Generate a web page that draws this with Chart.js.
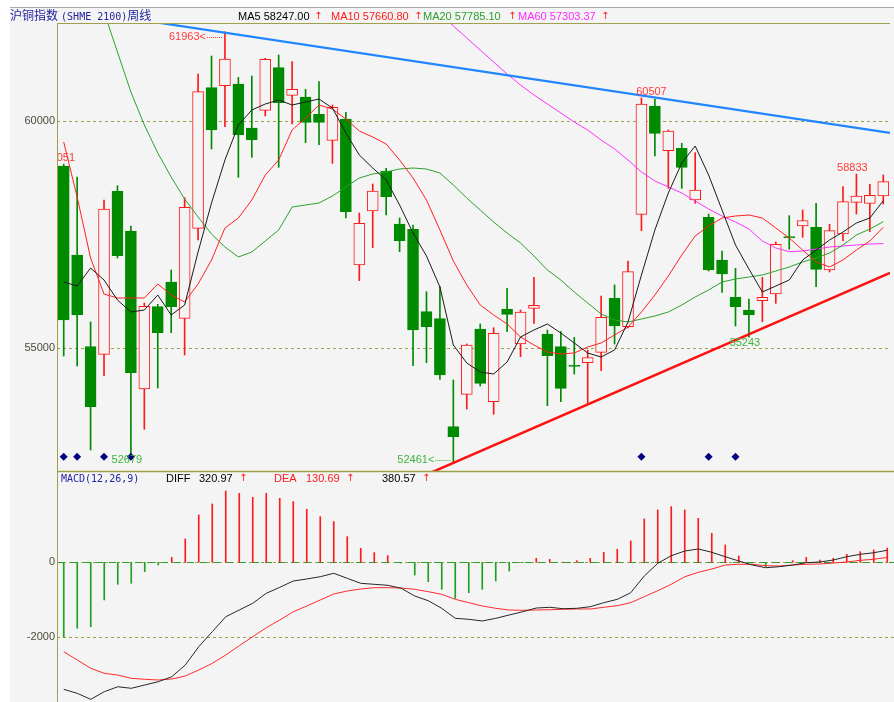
<!DOCTYPE html>
<html>
<head>
<meta charset="utf-8">
<script src="https://cdn.jsdelivr.net/npm/chart.js@4.4.1/dist/chart.umd.min.js"></script>
<style>
html, body { margin: 0; padding: 0; background: #fff; overflow: hidden; }
#wrap { position: relative; width: 894px; height: 702px; overflow: hidden; }
#panel { position: absolute; left: 10px; top: 7px; right: 0; bottom: 0; background: #f4f4f4; border-top: 1px solid #a8a8a8; }
canvas { position: absolute; left: 0; }
.t { position: absolute; font: 11px "Liberation Sans", Arial, sans-serif; line-height: 12px; white-space: nowrap; }
.cjk { font-family: "Noto Sans CJK SC", sans-serif; font-size: 12px; }
.mono { font-family: "DejaVu Sans Mono", monospace; font-size: 10px; }
.up { color: #ff2020; font-size: 10px; font-family: "DejaVu Sans", sans-serif; }
</style>
</head>
<body>
<div id="wrap">
  <div id="panel"></div>
  <canvas id="price" width="894" height="482" style="top:0"></canvas>
  <canvas id="macd" width="894" height="254" style="top:460px"></canvas>

  <!-- header of the price panel -->
  <div class="t" style="left:10px;top:9px;color:#24249c"><span class="cjk">沪铜指数</span> <span class="mono">(SHME 2100)</span><span class="cjk">周线</span></div>
  <div class="t" style="left:238px;top:10px;color:#000">MA5 58247.00</div>
  <div class="t up" style="left:314px;top:10px">↑</div>
  <div class="t" style="left:331px;top:10px;color:#ff1a1a">MA10 57660.80</div>
  <div class="t up" style="left:414px;top:10px">↑</div>
  <div class="t" style="left:423px;top:10px;color:#2ca02c">MA20 57785.10</div>
  <div class="t up" style="left:508px;top:10px">↑</div>
  <div class="t" style="left:518px;top:10px;color:#ff2aff">MA60 57303.37</div>
  <div class="t up" style="left:601px;top:10px">↑</div>

  <!-- header of the MACD panel -->
  <div class="t mono" style="left:61px;top:473px;color:#2424a8">MACD(12,26,9)</div>
  <div class="t" style="left:166px;top:472px;color:#000">DIFF</div>
  <div class="t" style="left:199px;top:472px;color:#000">320.97</div>
  <div class="t up" style="left:239px;top:472px">↑</div>
  <div class="t" style="left:274px;top:472px;color:#ff1a1a">DEA</div>
  <div class="t" style="left:306px;top:472px;color:#ff1a1a">130.69</div>
  <div class="t up" style="left:346px;top:472px">↑</div>
  <div class="t" style="left:382px;top:472px;color:#000">380.57</div>
  <div class="t up" style="left:422px;top:472px">↑</div>
</div>

<script>
// weekly candles, one per week
const opens  = [59010, 57052, 55035, 54867, 58453, 57580, 54104, 55915, 56458, 55659,
                57639, 60733, 60777, 60814, 59846, 60235, 61173, 60565, 60528, 60147,
                59575, 60044, 56832, 58020, 58900, 57734, 57617, 55805, 55651, 53275,
                53987, 55424, 53825, 55864, 55094, 55879, 55314, 55035, 54632, 54683,
                54911, 56099, 55475, 57947, 60330, 59347, 59399, 58262, 57881, 56942,
                56121, 55842, 56047, 56194, 57455, 57690, 57661, 56722, 57514, 58211,
                58189, 58350];
const closes = [55622, 55732, 53715, 58064, 57037, 54463, 55923, 55343, 55915, 58101,
                60645, 59802, 61364, 59699, 59582, 61357, 60403, 60697, 59971, 59971,
                60301, 58005, 57749, 58460, 58335, 57367, 55402, 55475, 54412, 53055,
                55072, 54229, 55329, 55747, 55798, 55945, 54837, 54119, 54603, 54793,
                55681, 55490, 56685, 60374, 59729, 59780, 58981, 58482, 56722, 56634,
                55915, 55732, 56121, 57287, 57426, 57807, 56737, 57587, 58225, 58350,
                58365, 58665];
const highs  = [59051, 58768, 55578, 58262, 58577, 57690, 55996, 55967, 56722, 58313,
                61034, 61430, 61963, 60961, 60990, 61379, 61452, 61305, 60697, 60865,
                60352, 60191, 57976, 58614, 58959, 57866, 57712, 56245, 56355, 54302,
                55094, 55534, 55453, 56320, 55842, 56561, 55402, 55365, 55241, 54962,
                56150, 56392, 56920, 60507, 60480, 59802, 59509, 59303, 57954, 57140,
                56759, 56084, 56561, 57338, 57917, 58042, 58189, 57727, 58555, 58833,
                58607, 58812];
const lows   = [54830, 54610, 52762, 54397, 56986, 52679, 53217, 54126, 55343, 54852,
                57382, 59384, 59875, 58761, 59201, 60110, 58981, 59934, 59523, 59479,
                59069, 57866, 56487, 57213, 57932, 57125, 54617, 54683, 54317, 52461,
                53664, 54170, 53547, 55365, 54815, 55549, 53737, 53825, 54434, 53789,
                54507, 55094, 55446, 57587, 59230, 58519, 58519, 58189, 56700, 56231,
                55490, 55243, 55585, 55989, 57177, 57441, 56355, 56678, 57367, 57954,
                57565, 58174];

// moving averages
const ma5  = [56458, 56370, 56766, 56502, 56062, 55798, 55842, 56172, 55732, 55952,
              57118, 58196, 59142, 59912, 60242, 60374, 60462, 60352, 60418, 60484,
              60286, 59736, 59252, 58966, 58702, 58152, 57536, 57030, 56348, 55072,
              54676, 54478, 54434, 54698, 55248, 55402, 55534, 55336, 55116, 54896,
              54808, 54962, 55578, 56612, 57602, 58416, 59076, 59450, 58812, 58042,
              57272, 56744, 56238, 56370, 56502, 56942, 57162, 57382, 57558, 57756,
              57866, 58247];
const ma10 = [59538, 58328, 56986, 56194, 56106, 56106, 56106, 56414, 56172, 56018,
              56414, 56942, 57646, 57866, 58262, 58812, 59142, 59802, 60066, 60352,
              60264, 60044, 59780, 59648, 59494, 59142, 58746, 58262, 57602, 56920,
              56392, 55952, 55732, 55534, 55248, 55072, 54918, 54874, 54896, 55028,
              55116, 55292, 55468, 55798, 56172, 56590, 57052, 57470, 57690, 57866,
              57910, 57932, 57866, 57646, 57426, 57162, 56898, 56788, 56942, 57162,
              57360, 57661];
const ma20 = [null, null, null, 62398, 61518, 60638, 59912, 59296, 58768, 58284,
              57888, 57514, 57228, 57008, 57118, 57360, 57602, 58108, 58152, 58196,
              58350, 58548, 58746, 58834, 58878, 58944, 58966, 58944, 58856, 58592,
              58306, 58042, 57778, 57536, 57316, 57030, 56722, 56502, 56238, 55996,
              55754, 55622, 55578, 55644, 55710, 55798, 55952, 56128, 56282, 56458,
              56524, 56568, 56612, 56700, 56788, 56898, 56986, 57096, 57272, 57492,
              57624, 57785];
const ma60 = [null, null, null, null, null, null, null, null, null, null,
              null, null, null, null, null, null, null, null, null, null,
              null, null, null, null, null, null, null, null, 62354, 62090,
              61826, 61562, 61298, 61034, 60792, 60572, 60374, 60176, 59978, 59802,
              59582, 59384, 59142, 58878, 58680, 58548, 58416, 58240, 58064, 57910,
              57778, 57624, 57360, 57206, 57126, 57140, 57184, 57228, 57250, 57272,
              57294, 57303];

// MACD(12,26,9)
const macdHist = [-2000, -1760, -1716, -1005, -587, -560, -249, -71, 133, 622,
                  1262, 1556, 1902, 1840, 1734, 1840, 1707, 1618, 1413, 1218,
                  1085, 684, 373, 258, 178, -20, -338, -516, -720, -960,
                  -809, -720, -498, -231, -10, 107, 80, 5, 44, 107,
                  267, 347, 569, 1156, 1396, 1485, 1396, 1173, 773, 462,
                  169, -20, -116, 0, 44, 133, 62, 107, 213, 284,
                  329, 381];
const diff = [-3387, -3494, -3654, -3451, -3318, -3360, -3272, -3184, -3051, -2739,
              -2251, -1851, -1451, -1272, -1093, -827, -667, -499, -445, -384,
              -293, -427, -560, -587, -613, -693, -899, -1024, -1227, -1494,
              -1520, -1565, -1494, -1405, -1317, -1219, -1200, -1237, -1227, -1184,
              -1077, -987, -811, -365, -27, 176, 301, 355, 267, 149,
              35, -72, -144, -117, -72, -11, 8, 61, 149, 213,
              256, 321];
const dea  = [-2384, -2606, -2827, -2960, -3006, -3094, -3120, -3139, -3112, -3032,
              -2872, -2694, -2472, -2224, -1984, -1744, -1539, -1318, -1165, -1005,
              -845, -765, -712, -677, -677, -685, -720, -784, -853, -987,
              -1077, -1165, -1227, -1272, -1280, -1272, -1264, -1253, -1245, -1245,
              -1200, -1157, -1077, -917, -757, -587, -384, -267, -179, -72,
              -53, -53, -91, -99, -72, -53, -45, -19, 8, 53,
              80, 131];

// axis ticks
const priceTicks = [55000, 60000];
const macdTicks = [-2000, 0];

// trend lines (week index, price)
const resistance = [{x: -0.5, y: 62499}, {x: 61.5, y: 59740}];
const support = [{x: 27, y: 52221}, {x: 61.5, y: 56656}];

// weeks with a signal diamond
const signalWeeks = [0, 1, 3, 5, 43, 48, 50];

// high / low markers: week and which extreme
const markers = [
  {i: 0,  at: 'high'}, {i: 12, at: 'high', arrow: true}, {i: 5,  at: 'low'},
  {i: 29, at: 'low', arrow: true}, {i: 43, at: 'high'}, {i: 51, at: 'low'},
  {i: 59, at: 'high'}
];

const RED = '#ff1a1a', GREEN = '#008a00', BG = '#f4f4f4', OLIVE = '#a0a04c';
const weeks = opens.map((_, i) => i);
const isUp = weeks.map(i => closes[i] >= opens[i]);
const pts = arr => arr.map((v, i) => ({x: i, y: v}));
const labelFont = '11px "Liberation Sans", Arial, sans-serif';

function yAxis(min, max, ticks) {
  return {
    min: min, max: max, position: 'left',
    grid: {display: false, drawTicks: false},
    border: {display: false},
    afterBuildTicks: s => { s.ticks = ticks.map(v => ({value: v})); },
    afterFit: s => { s.width = 57; },
    ticks: {padding: 2, color: '#4a4a3a', font: {family: 'Liberation Sans', size: 11},
            callback: v => String(v)}
  };
}

// x axis: one unit per week, no extra offset
const xAxis = {type: 'linear', min: -0.5, max: 61.5, offset: false, display: false,
               grid: {offset: false}};

function dashedAt(chart, values, color, dash) {
  const {ctx, chartArea: a, scales: {y}} = chart;
  ctx.save();
  ctx.strokeStyle = color;
  ctx.lineWidth = 1;
  ctx.setLineDash(dash);
  values.forEach(v => {
    const py = Math.round(y.getPixelForValue(v)) + 0.5;
    ctx.beginPath();
    ctx.moveTo(a.left, py);
    ctx.lineTo(a.right, py);
    ctx.stroke();
  });
  ctx.restore();
}

const pricePanel = {
  id: 'pricePanel',
  beforeDatasetsDraw(chart) {
    dashedAt(chart, priceTicks, OLIVE, [3, 3]);
  },
  afterDraw(chart) {
    const {ctx, chartArea: a, scales: {x, y}} = chart;
    // frame
    ctx.save();
    ctx.strokeStyle = OLIVE;
    ctx.lineWidth = 1;
    ctx.beginPath();
    ctx.moveTo(a.left + 0.5, a.bottom);
    ctx.lineTo(a.left + 0.5, a.top + 0.5);
    ctx.lineTo(a.right, a.top + 0.5);
    ctx.stroke();
    ctx.restore();

    // high / low labels
    ctx.save();
    ctx.beginPath();
    ctx.rect(a.left + 1, a.top, a.right - a.left, a.bottom - a.top);
    ctx.clip();
    ctx.font = labelFont;
    ctx.textBaseline = 'middle';
    markers.forEach(m => {
      const val = m.at === 'high' ? highs[m.i] : lows[m.i];
      const px = x.getPixelForValue(m.i);
      const py = y.getPixelForValue(val);
      ctx.fillStyle = m.at === 'high' ? '#ff3a3a' : '#3cb43c';
      if (m.arrow) {
        const cy = m.at === 'high' ? py + 5 : py - 4;
        ctx.textAlign = 'right';
        ctx.fillText(val + '<', px - 19, cy);
        ctx.strokeStyle = ctx.fillStyle;
        ctx.setLineDash([1, 1]);
        ctx.beginPath();
        ctx.moveTo(px - 18, Math.round(cy) + 0.5);
        ctx.lineTo(px - 2, Math.round(cy) + 0.5);
        ctx.stroke();
        ctx.setLineDash([]);
      } else {
        const cy = m.at === 'high' ? py - 6 : py + 6;
        const dx = m.i === 43 ? 10 : -4;
        ctx.textAlign = 'center';
        ctx.fillText(String(val), px + dx, cy);
      }
    });
    ctx.restore();
  }
};

const macdPanel = {
  id: 'macdPanel',
  beforeDatasetsDraw(chart) {
    dashedAt(chart, macdTicks, OLIVE, [3, 3]);
    dashedAt(chart, [0], '#2ca02c', [7, 6]);
  },
  afterDraw(chart) {
    const {ctx, chartArea: a} = chart;
    ctx.save();
    ctx.strokeStyle = OLIVE;
    ctx.lineWidth = 1.5;
    ctx.beginPath();
    ctx.moveTo(a.left, a.top - 0.5);
    ctx.lineTo(a.right, a.top - 0.5);
    ctx.stroke();
    ctx.lineWidth = 1;
    ctx.beginPath();
    ctx.moveTo(a.left + 0.5, a.top);
    ctx.lineTo(a.left + 0.5, a.bottom);
    ctx.stroke();
    ctx.restore();
  }
};

const common = {
  responsive: false,
  animation: false,
  devicePixelRatio: 1,
  events: [],
  plugins: {legend: {display: false}, tooltip: {enabled: false}}
};

const maLine = (vals, color, order) => ({
  type: 'line', data: pts(vals), borderColor: color, borderWidth: 1,
  pointRadius: 0, tension: 0, order: order
});

new Chart(document.getElementById('price'), {
  type: 'bar',
  data: {
    datasets: [
      {type: 'line', data: resistance, borderColor: '#1f86ff', borderWidth: 2.2, pointRadius: 0, order: 0},
      {type: 'line', data: support, borderColor: '#ff1010', borderWidth: 2.5, pointRadius: 0, order: 0},
      {type: 'line', data: signalWeeks.map(i => ({x: i, y: 52615})), showLine: false,
       pointStyle: 'rectRot', pointRadius: 4, pointBackgroundColor: '#000080',
       pointBorderColor: '#000080', pointBorderWidth: 0, order: 0},
      maLine(ma5, '#1a1a1a', 1),
      maLine(ma10, '#ff2020', 1),
      maLine(ma20, '#2ca02c', 1),
      maLine(ma60, '#ff30ff', 1),
      {
        // candle bodies
        type: 'bar', grouped: false, order: 4,
        data: weeks.map(i => ({x: i, y: [opens[i], closes[i]]})),
        backgroundColor: weeks.map(i => isUp[i] ? BG : GREEN),
        borderColor: weeks.map(i => isUp[i] ? RED : GREEN),
        borderWidth: 1, borderSkipped: false, barThickness: 11
      },
      {
        // wicks
        type: 'bar', grouped: false, order: 5,
        data: weeks.map(i => ({x: i, y: [lows[i], highs[i]]})),
        backgroundColor: weeks.map(i => isUp[i] ? RED : GREEN),
        barThickness: 1
      }
    ]
  },
  options: Object.assign({}, common, {
    layout: {padding: {top: 23, bottom: 11, left: 0, right: 0}},
    scales: {x: xAxis, y: yAxis(52300, 62156, priceTicks)}
  }),
  plugins: [pricePanel]
});

new Chart(document.getElementById('macd'), {
  type: 'bar',
  data: {
    datasets: [
      {type: 'line', data: pts(diff), borderColor: '#262626', borderWidth: 1, pointRadius: 0, tension: 0, order: 0},
      {type: 'line', data: pts(dea), borderColor: '#ff2a2a', borderWidth: 1, pointRadius: 0, tension: 0, order: 1},
      {type: 'bar', grouped: false, order: 2, data: pts(macdHist), barThickness: 1,
       backgroundColor: macdHist.map(v => v >= 0 ? '#ff1a1a' : '#20a020')}
    ]
  },
  options: Object.assign({}, common, {
    layout: {padding: {top: 12, bottom: 12, left: 0, right: 0}},
    scales: {x: xAxis, y: yAxis(-3725, 2408, macdTicks)}
  }),
  plugins: [macdPanel]
});
</script>
</body>
</html>
